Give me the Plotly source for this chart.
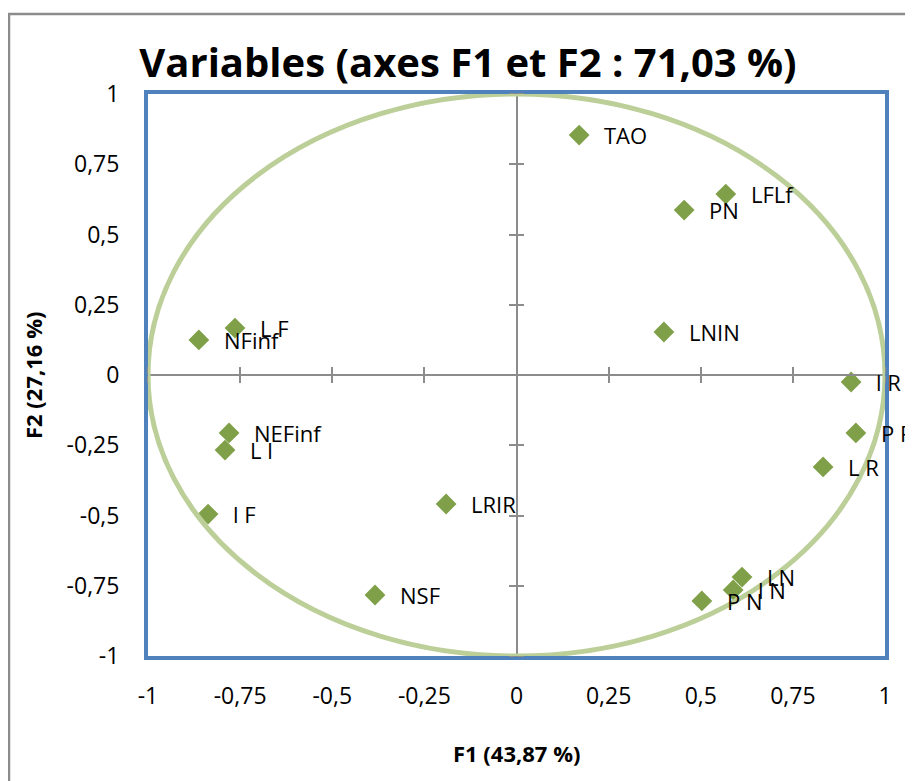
import plotly.graph_objects as go

# ---- data ----
labels = ["TAO", "LFLf", "PN", "LNIN", "L F", "NFinf", "l R", "P R", "L R",
          "NEFinf", "L l", "l F", "LRIR", "NSF", "LN", "l N", "P N"]
f1 = [0.170, 0.568, 0.455, 0.400, -0.764, -0.862, 0.908, 0.921, 0.832,
      -0.780, -0.791, -0.837, -0.191, -0.384, 0.612, 0.588, 0.503]
f2 = [0.854, 0.644, 0.587, 0.153, 0.167, 0.125, -0.025, -0.206, -0.327,
      -0.206, -0.267, -0.495, -0.459, -0.783, -0.719, -0.765, -0.804]
tick_vals = [-1, -0.75, -0.5, -0.25, 0, 0.25, 0.5, 0.75, 1]
tick_text = ["-1", "-0,75", "-0,5", "-0,25", "0", "0,25", "0,5", "0,75", "1"]

title_text = "Variables (axes F1 et F2 : 71,03 %)"
xtitle = "F1 (43,87 %)"
ytitle = "F2 (27,16 %)"

FONT = "Open Sans"
GREEN = "rgb(127,160,72)"
CIRCLE = "rgb(188,207,152)"
BLUE = "#4F81BD"
GRAY = "#8C8C8C"

OFF = 8  # page body margin
W, H = 913 - OFF, 781 - OFF
ML, MT = 148 - OFF, 94 - OFF
PW, PH = 737, 562
MR, MB = W - ML - PW, H - MT - PH

def px_x(p):
    return (p - OFF - ML) / PW

def px_y(p):
    return 1 - (p - OFF - MT) / PH

fig = go.Figure()

fig.add_trace(go.Scatter(
    x=f1, y=f2, mode="markers",
    marker=dict(symbol="diamond", size=16, color=GREEN, line=dict(width=0)),
    hoverinfo="text", text=labels, showlegend=False, cliponaxis=False,
))

# invisible traces to activate the crossing axes through the origin
for xa, ya in [("x2", "y"), ("x3", "y"), ("x", "y2"), ("x", "y3")]:
    fig.add_trace(go.Scatter(x=[None], y=[None], xaxis=xa, yaxis=ya,
                             showlegend=False, hoverinfo="skip"))

for xv, yv, t in zip(f1, f2, labels):
    fig.add_annotation(x=xv, y=yv, text=t, showarrow=False, xanchor="left",
                       yanchor="middle", xshift=23,
                       font=dict(family=FONT, size=22, color="black"))

# correlation circle
fig.add_shape(type="circle", xref="x", yref="y", x0=-1, y0=-1, x1=1, y1=1,
              line=dict(color=CIRCLE, width=5), layer="above")

# outer chart border
fig.add_shape(type="rect", xref="paper", yref="paper",
              x0=px_x(9), x1=px_x(930), y0=px_y(800), y1=px_y(14),
              line=dict(color=GRAY, width=2.5), layer="below")

main_axis = dict(range=[-1, 1], tickvals=tick_vals, ticktext=tick_text,
                 showgrid=False, zeroline=False, showline=True, mirror=True,
                 linecolor=BLUE, linewidth=4, ticks="",
                 tickfont=dict(family=FONT, size=23, color="black"))

cross = dict(range=[-1, 1], tickvals=tick_vals, showgrid=False, zeroline=False,
             showticklabels=False, showline=True, linecolor=GRAY, linewidth=1.5,
             ticklen=7, tickwidth=1.5, tickcolor=GRAY, ticks="outside",
             anchor="free", position=0.5)

fig.update_layout(
    width=W, height=H,
    margin=dict(l=ML, r=MR, t=MT, b=MB, autoexpand=False),
    paper_bgcolor="white", plot_bgcolor="white",
    xaxis=dict(**main_axis, ticklabelstandoff=16),
    yaxis=dict(**main_axis, ticklabelstandoff=20),
    xaxis2=dict(**cross, overlaying="x", side="bottom"),
    xaxis3=dict(**cross, overlaying="x", side="top"),
    yaxis2=dict(**cross, overlaying="y", side="left"),
    yaxis3=dict(**cross, overlaying="y", side="right"),
    title=dict(text=title_text, x=px_x(468), xref="paper", xanchor="center",
               y=1 - (63 - OFF) / H, yref="container", yanchor="middle",
               font=dict(family=FONT, size=40, color="black", weight="bold")),
    showlegend=False,
)

fig.add_annotation(text=xtitle, xref="paper", yref="paper", x=0.5, y=px_y(753),
                   showarrow=False, xanchor="center", yanchor="middle",
                   font=dict(family=FONT, size=22, color="black", weight="bold"))
fig.add_annotation(text=ytitle, xref="paper", yref="paper", x=px_x(33), y=0.5,
                   showarrow=False, xanchor="center", yanchor="middle",
                   textangle=-90,
                   font=dict(family=FONT, size=22, color="black", weight="bold"))

fig.write_html("out.html")
